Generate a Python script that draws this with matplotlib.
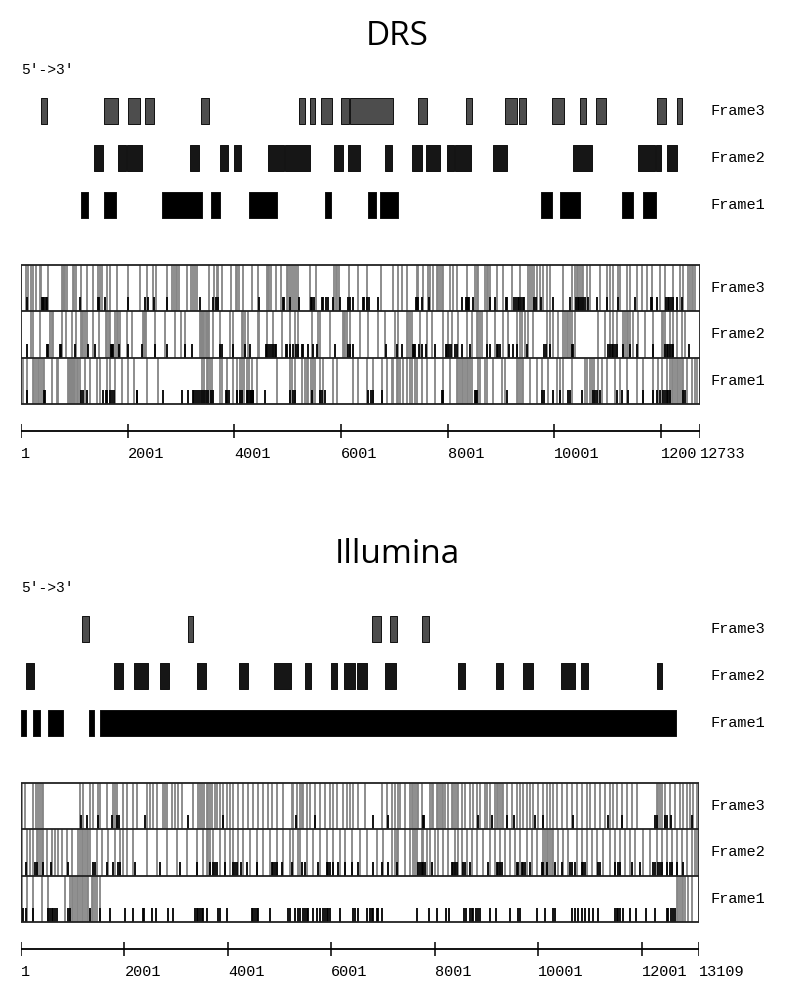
import matplotlib
matplotlib.use('Agg')
import matplotlib.pyplot as plt

# ---------------- data (nucleotide positions) ----------------
frames = ['Frame3', 'Frame2', 'Frame1']

drs_len = 12733
drs_ticks = [1, 2001, 4001, 6001, 8001, 10001, 12001, 12733]
drs_tick_labels = ['1', '2001', '4001', '6001', '8001', '10001', '1200', '12733']

drs_orf_f3 = [(376, 494), (1563, 1825), (2007, 2232), (2320, 2500), (3382, 3526),
              (5214, 5332), (5414, 5519), (5632, 5838), (5995, 6151), (6164, 6976),
              (7445, 7619), (8345, 8463), (9076, 9301), (9339, 9475), (9963, 10177),
              (10488, 10600), (10788, 10970), (11920, 12100), (12301, 12400)]
drs_orf_f2 = [(1364, 1539), (1825, 1975), (1983, 2276), (3175, 3344), (3732, 3888),
              (3995, 4120), (4632, 4932), (4945, 5414), (5870, 6033), (6127, 6358),
              (6826, 6952), (7338, 7525), (7595, 7851), (7983, 8120), (8133, 8439),
              (8857, 9114), (10345, 10713), (11564, 11894), (11902, 12001), (12114, 12307)]
drs_orf_f1 = [(1132, 1252), (1552, 1788), (2645, 3400), (3558, 3738), (4270, 4795),
              (5707, 5819), (6507, 6652), (6738, 7075), (9751, 9957), (10113, 10477),
              (11270, 11482), (11664, 11907)]

drs_stop_f3 = [95, 138, 182, 232, 276, 357, 376, 513, 763, 782, 801, 832, 857, 969, 994,
               1038, 1126, 1244, 1344, 1451, 1482, 1513, 1607, 1669, 1807, 2001, 2232, 2357,
               2482, 2532, 2732, 2838, 2869, 2901, 2932, 2963, 3107, 3188, 3219, 3263, 3307,
               3526, 3626, 3669, 3701, 3763, 3932, 4032, 4057, 4094, 4169, 4326, 4451, 4607,
               4638, 4657, 4688, 4782, 4876, 4982, 5013, 5044, 5082, 5119, 5157, 5201, 5419,
               5532, 5876, 5907, 5932, 5969, 6157, 6326, 6482, 6751, 6969, 7076,
               7139, 7232, 7420, 7451, 7532, 7639, 7670, 7732, 7795, 7826, 7857, 7889, 7920,
               8045, 8095, 8170, 8357, 8514, 8545, 8576, 8701, 8732, 8764, 8795, 8920, 9045,
               9201, 9357, 9514, 9545, 9576, 9620, 9670, 9732, 9795, 9857, 9920, 10170, 10326,
               10389, 10420, 10451, 10482, 10514, 10545, 10607, 10670, 10857, 10982, 11045,
               11107, 11201, 11232, 11357, 11420, 11545, 11639, 11732, 11826, 11982, 12076,
               12232, 12357, 12420, 12514, 12545, 12576, 12607, 12639]
drs_start_f3 = [107, 388, 419, 438, 463, 482, 1107, 1438, 1469, 1576, 2013, 2326, 2388,
                2494, 2744, 3357, 3607, 3657, 3701, 4457, 4907, 4932, 5044, 5219, 5432, 5463,
                5494, 5638, 5669, 5713, 5763, 5857, 5982, 6138, 6169, 6232, 6419, 6438, 6482,
                6526, 6701, 7407, 7432, 7451, 7514, 7657, 8264, 8345, 8370, 8389, 8407, 8482,
                8795, 8889, 9089, 9120, 9245, 9282, 9326, 9345, 9370, 9407, 9432, 9620, 9657,
                9745, 9970, 10295, 10407, 10439, 10470, 10495, 10532, 10576, 10639, 10807,
                10982, 11201, 11514, 11814, 11832, 11920, 12095, 12126, 12157, 12182, 12220,
                12307, 12389]

drs_stop_f2 = [188, 232, 357, 544, 576, 607, 763, 844, 951, 1032, 1126, 1144, 1169, 1201,
               1232, 1357, 1469, 1594, 1619, 1644, 1669, 1763, 1794, 1826, 1857, 1982, 2076,
               2294, 2307, 2326, 2344, 2513, 2701, 2888, 2994, 3076, 3357, 3376, 3401, 3419,
               3438, 3463, 3482, 3501, 3532, 3607, 3732, 3919, 3982, 4139, 4169, 4201, 4263,
               4451, 4469, 4607, 4732, 4888, 5044, 5138, 5201, 5451, 5576, 5607, 5794, 6044,
               6063, 6082, 6107, 6169, 6357, 6513, 6701, 6826, 7013,
               7076, 7232, 7264, 7295, 7326, 7482, 7607, 7701, 7920, 8014, 8076, 8201, 8357,
               8451, 8545, 8576, 8607, 8639, 8732, 8889, 9045, 9139, 9295, 9357, 9389, 9451,
               9514, 9607, 9857, 9920, 9982, 10076, 10170, 10201, 10232, 10264, 10295, 10326,
               10389, 10826, 10951, 11045, 11107, 11170, 11295, 11326, 11357, 11389, 11420,
               11482, 11576, 11701, 11857, 12014, 12045, 12076, 12170, 12232, 12295, 12389,
               12451]
drs_start_f2 = [120, 494, 513, 732, 751, 1013, 1263, 1388, 1682, 1701, 1732, 1838, 2001,
                2263, 2513, 2732, 3076, 3201, 3732, 3763, 3982, 4201, 4294, 4588, 4620, 4657,
                4682, 4732, 4763, 4782, 4970, 4995, 5044, 5095, 5157, 5201, 5263, 5294, 5388,
                5482, 5544, 5888, 6138, 6169, 6232, 6845, 7044, 7139, 7345, 7370, 7389, 7470,
                7514, 7595, 7764, 7970, 7995, 8032, 8064, 8139, 8170, 8264, 8420, 8732, 8795,
                8920, 8951, 8982, 9157, 9232, 9295, 9482, 9807, 9845, 9920, 10326, 10345,
                11014, 11045, 11076, 11107, 11139, 11170, 11295, 11420, 11545, 11857, 12076,
                12107, 12139, 12170, 12201, 12232, 12532]

drs_stop_f1 = [45, 107, 220, 251, 282, 313, 344, 376, 407, 438, 576, 682, 701, 888, 907,
               926, 944, 963, 982, 1001, 1019, 1044, 1076, 1107, 1201, 1294, 1419, 1482, 1607,
               1669, 1763, 1888, 2013, 2126, 2357, 2576, 3388, 3432, 3482, 3513, 3544, 3576,
               3732, 3763, 3857, 3982, 4044, 4107, 4138, 4188, 4232, 4282, 4326, 4419, 4794,
               5044, 5076, 5138, 5263, 5326, 5357, 5388, 5432, 5482, 5513, 5607, 5657, 5857,
               5919, 6232, 6326, 6482, 6607, 6763, 6857, 7044,
               6951, 6982, 7076, 7107, 7170, 7232, 7295, 7326, 7389, 7420, 7514, 7607, 7764,
               7920, 8045, 8170, 8201, 8232, 8264, 8295, 8326, 8357, 8389, 8420, 8451, 8576,
               8607, 8701, 8732, 8857, 9014, 9076, 9295, 9326, 9357, 9389, 9420, 9545, 9670,
               9764, 9889, 10045, 10107, 10170, 10326, 10576, 10607, 10670, 10701, 10745,
               10826, 10889, 10982, 11139, 11232, 11357, 11545, 11670, 11857, 11951, 12014,
               12107, 12170, 12201, 12232, 12264, 12295, 12326, 12357, 12389, 12420, 12482,
               12576, 12639, 12670]
drs_start_f1 = [107, 438, 451, 1126, 1169, 1244, 1544, 1594, 1619, 1669, 1713, 1751, 2169,
                2182, 2657, 3013, 3138, 3219, 3244, 3282, 3326, 3357, 3388, 3432, 3469, 3513,
                3557, 3607, 3844, 3870, 3895, 4044, 4107, 4144, 4232, 4263, 4294, 4307, 4326,
                4344, 4357, 4576, 5044, 5095, 5138, 5451, 5607, 5638, 5701, 6513, 6557, 6595,
                6763, 7889, 7920, 8514, 8532, 8557, 9107, 9764, 9807, 9982, 10107, 10264,
                10295, 10514, 10732, 10764, 10795, 10857, 11170, 11264, 11389, 11670, 11857,
                11920, 11982, 12032, 12076, 12107, 12139, 12170, 12420, 12451]

ill_len = 13109
ill_ticks = [1, 2001, 4001, 6001, 8001, 10001, 12001, 13109]
ill_tick_labels = ['1', '2001', '4001', '6001', '8001', '10001', '12001', '13109']

ill_orf_f3 = [(1175, 1322), (3224, 3321), (6793, 6955), (7129, 7264), (7754, 7895)]
ill_orf_f2 = [(98, 247), (1805, 1967), (2192, 2456), (2683, 2857), (3404, 3572),
              (4221, 4390), (4898, 5215), (5498, 5608), (5989, 6116), (6252, 6458),
              (6497, 6690), (7038, 7245), (8455, 8579), (9190, 9314), (9706, 9899),
              (10441, 10717), (10834, 10963), (12291, 12399)]
ill_orf_f1 = [(1, 103), (239, 374), (529, 819), (1310, 1418), (1534, 12664)]

ill_stop_f3 = [14, 78, 239, 291, 336, 368, 400, 433, 1142, 1206, 1335, 1399, 1496, 1528,
               1657, 1786, 1818, 1850, 1979, 2044, 2173, 2237, 2430, 2495, 2559, 2624, 2753,
               2785, 2817, 2914, 2978, 3043, 3107, 3333, 3429, 3461, 3494, 3539, 3590, 3623,
               3655, 3687, 3751, 3784, 3848, 3913, 3977, 4041, 4106, 4202, 4299, 4396, 4492,
               4589, 4686, 4782, 4847, 4944, 5073, 5234, 5266, 5330, 5395, 5427, 5459, 5523,
               5588, 5685, 5781, 5878, 5975, 6039, 6103, 6233, 6297, 6361, 6426, 6522, 6651,
               6973, 7070, 7167, 7296,
               7232, 7328, 7425, 7522, 7554, 7586, 7618, 7651, 7683, 7747, 7908, 7941, 7973,
               8037, 8069, 8102, 8134, 8166, 8198, 8263, 8327, 8359, 8392, 8424, 8456, 8520,
               8585, 8682, 8746, 8810, 8875, 8972, 9004, 9068, 9165, 9197, 9229, 9262, 9294,
               9326, 9390, 9487, 9584, 9648, 9713, 9777, 9842, 9906, 10003, 10099, 10164,
               10228, 10293, 10357, 10454, 10550, 10647, 10744, 10840, 10937, 11001, 11098,
               11195, 11291, 11388, 11452, 11517, 11614, 11710, 11807, 11904, 12290, 12322,
               12355, 12387, 12451, 12548, 12645, 12741, 12806, 12870, 12935, 12999, 13063]
ill_start_f3 = [1161, 1270, 1496, 1754, 1863, 1896, 2398, 3236, 3900, 5317, 5685, 6799,
                7102, 7767, 7792, 8830, 9100, 9390, 9532, 9938, 10099, 10666, 11356, 11614,
                12258, 12290, 12451, 12484, 12561, 12967]

ill_stop_f2 = [14, 111, 175, 239, 304, 336, 368, 400, 433, 497, 594, 658, 723, 787, 884,
               980, 1109, 1142, 1174, 1206, 1238, 1270, 1303, 1335, 1464, 1560, 1689, 1818,
               1915, 1979, 2044, 2173, 2430, 2624, 2817, 3010, 3204, 3397, 3526, 3590, 3623,
               3655, 3719, 3848, 3945, 4041, 4106, 4202, 4299, 4428, 4557, 4686, 4815, 4944,
               5073, 5201, 5266, 5362, 5395, 5523, 5652, 5781, 5910, 6039, 6168, 6265, 6393,
               6555, 6683, 6877, 7006, 7167, 7296,
               7232, 7264, 7425, 7522, 7586, 7618, 7651, 7747, 7779, 7844, 7908, 8005, 8069,
               8166, 8263, 8392, 8456, 8520, 8617, 8714, 8810, 8939, 9068, 9165, 9262, 9358,
               9455, 9552, 9648, 9777, 9874, 9971, 10099, 10132, 10164, 10196, 10228, 10260,
               10293, 10389, 10486, 10583, 10744, 10840, 10937, 11034, 11130, 11259, 11388,
               11485, 11581, 11678, 11775, 11871, 12032, 12161, 12290, 12387, 12484, 12580,
               12677, 12774, 12870, 12967, 13031, 13063]
ill_start_f2 = [98, 272, 304, 420, 581, 916, 1386, 1432, 1657, 1786, 1883, 1915, 2205,
                2688, 3075, 3410, 3655, 3706, 3751, 3797, 3945, 4106, 4138, 4183, 4248, 4364,
                4557, 4847, 4879, 4911, 4956, 5040, 5234, 5427, 5491, 5749, 5910, 5942, 5975,
                6026, 6136, 6265, 6393, 6522, 6812, 6973, 7102, 7264, 7683, 7715, 7747, 7779,
                7812, 7941, 8327, 8359, 8392, 8424, 8553, 8585, 8682, 9036, 9197, 9229, 9262,
                9294, 9584, 9616, 9680, 9713, 9745, 9842, 10067, 10099, 10164, 10325, 10454,
                10615, 10647, 10711, 10840, 10873, 10905, 11163, 11195, 11485, 11549, 11581,
                11807, 11968, 12226, 12258, 12322, 12355, 12387, 12484, 12548, 12580, 12677,
                12806]

ill_stop_f1 = [14, 111, 239, 400, 529, 852, 948, 980, 1013, 1045, 1077, 1109, 1142, 1174,
               1206, 1238, 1270, 1303, 1367, 1399, 1432, 1464, 1528,
               12677, 12709, 12741, 12774, 12806, 12838, 12902, 12967]
ill_start_f1 = [33, 98, 239, 529, 562, 594, 626, 658, 690, 916, 948, 1335, 1528, 1722,
                2012, 2173, 2366, 2379, 2527, 2604, 2849, 2946, 3365, 3397, 3429, 3461, 3494,
                3526, 3590, 3816, 3848, 3977, 4460, 4492, 4525, 4557, 4589, 4815, 5169, 5201,
                5298, 5362, 5395, 5459, 5491, 5523, 5556, 5652, 5717, 5781, 5846, 5878, 5910,
                5942, 5975, 6168, 6413, 6458, 6522, 6683, 6748, 6780, 6812, 6877, 6909, 6973,
                7651, 7895, 8050, 8218, 8282, 8566, 8604, 8682, 8714, 8746, 8798, 8843, 8875,
                9068, 9184, 9455, 9616, 9648, 9971, 10132, 10280, 10325, 10647, 10711, 10776,
                10840, 10905, 10989, 11066, 11163, 11485, 11517, 11549, 11581, 11633, 11775,
                11891, 12084, 12258, 12484, 12516, 12561, 12600, 12645]

# ---------------- figure ----------------
W, H = 787, 996
fig = plt.figure(figsize=(W / 100, H / 100), dpi=100)
fig.patch.set_facecolor('white')

MONO = 'Liberation Mono'
orf_colors = ['#4d4d4d', '#161616', '#000000']


def fy(ypx):
    return 1 - ypx / H


def draw_section(title, length, right_px, dy, orfs, stops, starts, ticks, tick_labels):
    # axes: x in nucleotides, y in figure pixels
    ax = fig.add_axes([21 / W, 0, (right_px - 21) / W, 1])
    ax.set_xlim(1, length)
    ax.set_ylim(H, 0)
    ax.axis('off')
    ax.patch.set_alpha(0)

    fig.text(397 / W, fy(45 + dy), title, family='Open Sans', fontsize=24,
             ha='center', va='baseline')
    fig.text(21 / W, fy(70 + dy), "5'->3'", family=MONO, fontsize=10.5,
             ha='left', va='center')

    # ORF rows
    orf_tops = [98, 145, 192]
    for i, (segs, top) in enumerate(zip(orfs, orf_tops)):
        ax.broken_barh([(s, e - s) for s, e in segs], (top + dy, 26),
                       facecolors=orf_colors[i], edgecolors='#111111', linewidth=0.7)
        fig.text(711 / W, fy(top + 13 + dy), frames[i], family=MONO, fontsize=11,
                 ha='left', va='center')

    # codon panel
    ptop = 264.5 + dy
    rowh = 46.6
    for i in range(3):
        r0 = ptop + i * rowh
        r1 = r0 + rowh
        ax.vlines(stops[i], r0, r1, color='#858585', linewidth=1.3)
        ax.vlines(starts[i], r1 - 0.3 * rowh, r1, color='black', linewidth=1.3)
        fig.text(711 / W, fy(r0 + rowh / 2), frames[i], family=MONO, fontsize=11,
                 ha='left', va='center')
    for i in range(4):
        ax.hlines(ptop + i * rowh, 1, length, color='#222222', linewidth=1.3)
    ax.vlines([1, length], ptop, ptop + 3 * rowh, color='#222222', linewidth=1.3)

    # position scale
    ay = 431 + dy
    ax.hlines(ay, 1, length, color='black', linewidth=1.3)
    ax.vlines(ticks, ay - 7, ay + 7, color='black', linewidth=1.1)
    for t, lab in zip(ticks, tick_labels):
        ax.text(t, 458 + dy, lab, family=MONO, fontsize=11, ha='left', va='baseline',
                clip_on=False)


draw_section('DRS', drs_len, 700, 0,
             [drs_orf_f3, drs_orf_f2, drs_orf_f1],
             [drs_stop_f3, drs_stop_f2, drs_stop_f1],
             [drs_start_f3, drs_start_f2, drs_start_f1],
             drs_ticks, drs_tick_labels)

draw_section('Illumina', ill_len, 699, 518,
             [ill_orf_f3, ill_orf_f2, ill_orf_f1],
             [ill_stop_f3, ill_stop_f2, ill_stop_f1],
             [ill_start_f3, ill_start_f2, ill_start_f1],
             ill_ticks, ill_tick_labels)

fig.savefig('out.png', dpi=100, facecolor='white')
